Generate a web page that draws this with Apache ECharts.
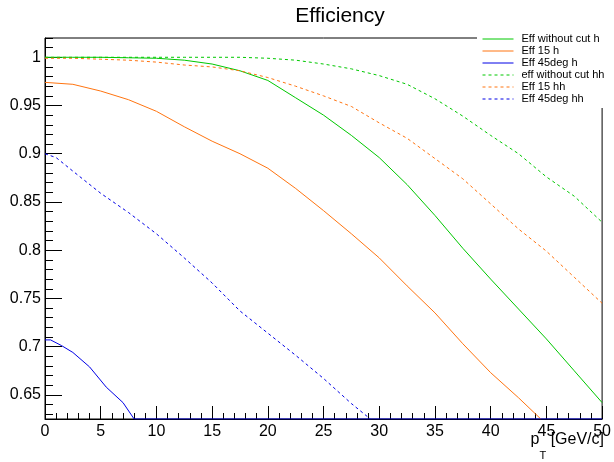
<!DOCTYPE html>
<html>
<head>
<meta charset="utf-8">
<script src="https://cdn.jsdelivr.net/npm/echarts@6/dist/echarts.min.js"></script>
<style>html,body{margin:0;padding:0;background:#fff;}#c{width:614px;height:462px;}</style>
</head>
<body>
<div id="c"></div>
<script>
// ---- data ----
var xStd = [0, 2.5, 5, 7.5, 10, 12.5, 15, 17.5, 20, 22.5, 25, 27.5, 30, 32.5, 35, 37.5, 40, 42.5, 45, 47.5, 50];
var effNoCutH   = [1.0, 1.0, 1.0, 0.9995, 0.999, 0.997, 0.993, 0.986, 0.976, 0.958, 0.940, 0.919, 0.896, 0.868, 0.836, 0.802, 0.770, 0.739, 0.708, 0.675, 0.642];
var effNoCutHH  = [1.0, 1.0, 1.0, 1.0, 1.0, 1.0, 1.0, 1.0, 0.999, 0.997, 0.993, 0.988, 0.981, 0.972, 0.957, 0.939, 0.919, 0.900, 0.876, 0.856, 0.829];
var eff15HH     = [0.999, 0.999, 0.998, 0.997, 0.995, 0.992, 0.990, 0.986, 0.979, 0.970, 0.960, 0.949, 0.932, 0.916, 0.895, 0.874, 0.848, 0.822, 0.799, 0.772, 0.745];
var x15H        = [0, 2.5, 5, 7.5, 10, 12.5, 15, 17.5, 20, 22.5, 25, 27.5, 30, 32.5, 35, 37.5, 40, 42.5, 44.5];
var eff15H      = [0.974, 0.972, 0.965, 0.956, 0.944, 0.928, 0.913, 0.900, 0.885, 0.864, 0.841, 0.817, 0.792, 0.763, 0.735, 0.703, 0.673, 0.647, 0.625];
var x45HH       = [0, 1, 2.5, 5, 7.5, 10, 12.5, 15, 17.5, 20, 22.5, 25, 27.5, 29.2];
var eff45HH     = [0.900, 0.896, 0.882, 0.859, 0.839, 0.817, 0.792, 0.766, 0.737, 0.714, 0.691, 0.667, 0.641, 0.625];
var x45H        = [0, 0.5, 1.5, 2.5, 4, 5.5, 7, 8, 50];
var eff45H      = [0.707, 0.707, 0.701, 0.694, 0.679, 0.658, 0.642, 0.625, 0.625];
var yMajorTicks = [0.65, 0.7, 0.75, 0.8, 0.85, 0.9, 0.95, 1];
var yMinorTicks = [0.63, 0.64, 0.65, 0.66, 0.67, 0.68, 0.69, 0.7, 0.71, 0.72, 0.73, 0.74, 0.75, 0.76, 0.77, 0.78, 0.79, 0.8, 0.81, 0.82, 0.83, 0.84, 0.85, 0.86, 0.87, 0.88, 0.89, 0.9, 0.91, 0.92, 0.93, 0.94, 0.95, 0.96, 0.97, 0.98, 0.99, 1, 1.01, 1.02];
var xMajorTicks = [0, 5, 10, 15, 20, 25, 30, 35, 40, 45, 50];
var xMinorTicks = [1, 2, 3, 4, 6, 7, 8, 9, 11, 12, 13, 14, 16, 17, 18, 19, 21, 22, 23, 24, 26, 27, 28, 29, 31, 32, 33, 34, 36, 37, 38, 39, 41, 42, 43, 44, 46, 47, 48, 49];
var names = ['Eff without cut h', 'Eff 15 h', 'Eff 45deg h', 'eff without cut hh', 'Eff 15 hh', 'Eff 45deg hh'];

function pairs(xs, ys) { return xs.map(function (x, i) { return [x, ys[i]]; }); }

var GREEN = '#00c800', ORANGE = '#ff7410', BLUE = '#0000e6';
var FONT = 'Liberation Sans, Arial, sans-serif';

function ser(name, data, color, dashed, z) {
  return {
    name: name, type: 'line', data: data, showSymbol: false, symbol: 'none',
    xAxisIndex: 0, yAxisIndex: 0, z: z, animation: false,
    lineStyle: { color: color, width: 1, type: dashed ? [3, 3] : 'solid' },
    itemStyle: { color: color }
  };
}

var chart = echarts.init(document.getElementById('c'), null, { renderer: 'canvas' });
chart.setOption({
  animation: false,
  backgroundColor: '#fff',
  title: {
    text: 'Efficiency', left: 335, top: 1, textAlign: 'center',
    textStyle: { fontFamily: FONT, fontSize: 21, fontWeight: 'normal', color: '#000' }
  },
  legend: {
    orient: 'vertical', left: 477, top: 31,
    padding: [2, 20, 3, 5], itemGap: 0, itemWidth: 31, itemHeight: 12,
    backgroundColor: '#fff', z: 10,
    itemStyle: { opacity: 0, borderWidth: 0 },
    lineStyle: { width: 1 },
    data: names,
    textStyle: { fontFamily: FONT, fontSize: 11, color: '#000', lineHeight: 12, padding: [0, 0, 0, 3] }
  },
  grid: { left: 45, right: 9, top: 38, bottom: 43, show: true, borderColor: '#000', borderWidth: 1, backgroundColor: 'transparent' },
  xAxis: [
    { type: 'value', min: 0, max: 50, position: 'bottom',
      axisLine: { show: true, onZero: false, lineStyle: { color: '#000', width: 1 } },
      axisTick: { show: true, inside: true, length: 13, customValues: xMajorTicks, lineStyle: { color: '#000' } },
      axisLabel: { show: true, customValues: xMajorTicks, margin: 5, fontFamily: FONT, fontSize: 16, color: '#000' },
      splitLine: { show: false } },
    { type: 'value', min: 0, max: 50, position: 'bottom', gridIndex: 0,
      axisLine: { show: false },
      axisTick: { show: true, inside: true, length: 6, customValues: xMinorTicks, lineStyle: { color: '#000' } },
      axisLabel: { show: false }, splitLine: { show: false } }
  ],
  yAxis: [
    { type: 'value', min: 0.625, max: 1.02, position: 'left',
      axisLine: { show: true, onZero: false, lineStyle: { color: '#000', width: 1 } },
      axisTick: { show: true, inside: true, length: 17, customValues: yMajorTicks, lineStyle: { color: '#000' } },
      axisLabel: { show: true, customValues: yMajorTicks, margin: 4, fontFamily: FONT, fontSize: 16, color: '#000',
        formatter: function (v) { return String(parseFloat(v.toFixed(2))); } },
      splitLine: { show: false } },
    { type: 'value', min: 0.625, max: 1.02, position: 'left',
      axisLine: { show: false },
      axisTick: { show: true, inside: true, length: 8, customValues: yMinorTicks, lineStyle: { color: '#000' } },
      axisLabel: { show: false }, splitLine: { show: false } }
  ],
  graphic: [
    { type: 'text', right: 10, top: 432, z: 20,
      style: { text: '{p|p}{s|T}{p| [GeV/c]}', rich: {
        p: { fontFamily: FONT, fontSize: 16, fill: '#000', verticalAlign: 'top' },
        s: { fontFamily: FONT, fontSize: 11, fill: '#000', padding: [18, 0, 0, 0] }
      } } }
  ],
  series: [
    ser(names[0], pairs(xStd, effNoCutH), GREEN, false, 3),
    ser(names[1], pairs(x15H, eff15H), ORANGE, false, 3),
    ser(names[2], pairs(x45H, eff45H), BLUE, false, 4),
    ser(names[3], pairs(xStd, effNoCutHH), GREEN, true, 3),
    ser(names[4], pairs(xStd, eff15HH), ORANGE, true, 3),
    ser(names[5], pairs(x45HH, eff45HH), BLUE, true, 3)
  ]
});
</script>
</body>
</html>
